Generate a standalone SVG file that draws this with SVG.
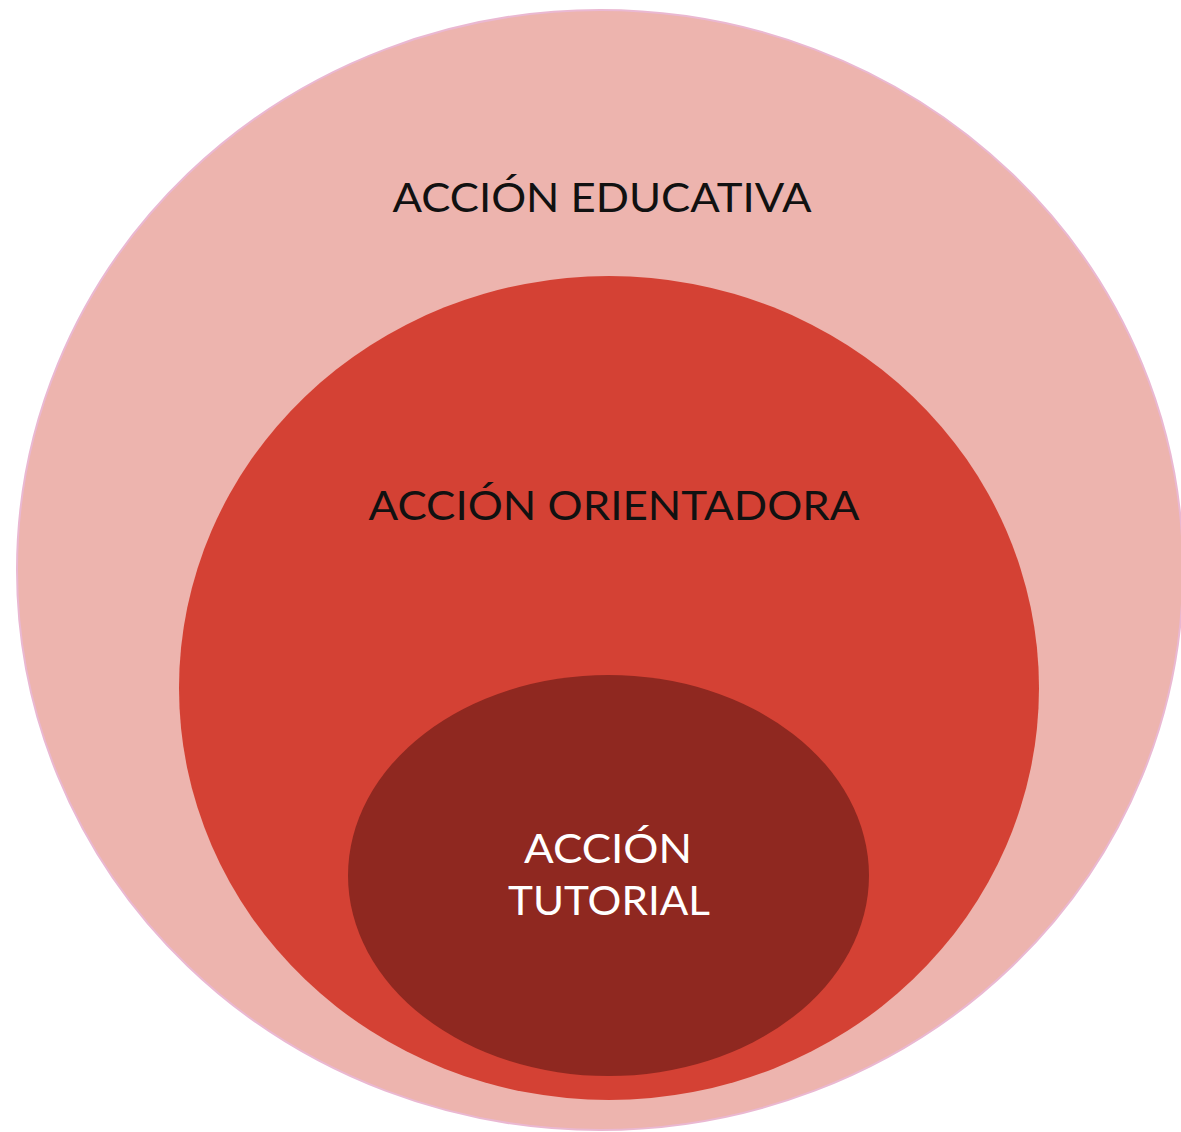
<svg xmlns="http://www.w3.org/2000/svg" width="1181" height="1132" viewBox="0 0 1181 1132">
<style>
.lbl{font-family:Lato,"Noto Sans","Liberation Sans",sans-serif;font-size:41px;font-weight:400;text-anchor:middle}
.dark{fill:#111111}
.light{fill:#ffffff}
</style>
<rect width="1181" height="1132" fill="#ffffff"/>
<g id="educativa">
<ellipse cx="600" cy="570" rx="583" ry="560" fill="#EDB4AE" stroke="#EAB8D2" stroke-width="2"/>
<text class="lbl dark" x="602" y="212" textLength="419" lengthAdjust="spacingAndGlyphs">ACCIÓN EDUCATIVA</text>
</g>
<g id="orientadora">
<ellipse cx="609" cy="688" rx="430" ry="412" fill="#D44134"/>
<text class="lbl dark" x="614" y="520" textLength="491" lengthAdjust="spacingAndGlyphs">ACCIÓN ORIENTADORA</text>
</g>
<g id="tutorial">
<ellipse cx="608.5" cy="875.5" rx="260.5" ry="200.5" fill="#8F2820"/>
<text class="lbl light" x="608" y="863" textLength="168" lengthAdjust="spacingAndGlyphs">ACCIÓN</text>
<text class="lbl light" x="609" y="915" textLength="202" lengthAdjust="spacingAndGlyphs">TUTORIAL</text>
</g>
<g id="connectors"/>
</svg>
